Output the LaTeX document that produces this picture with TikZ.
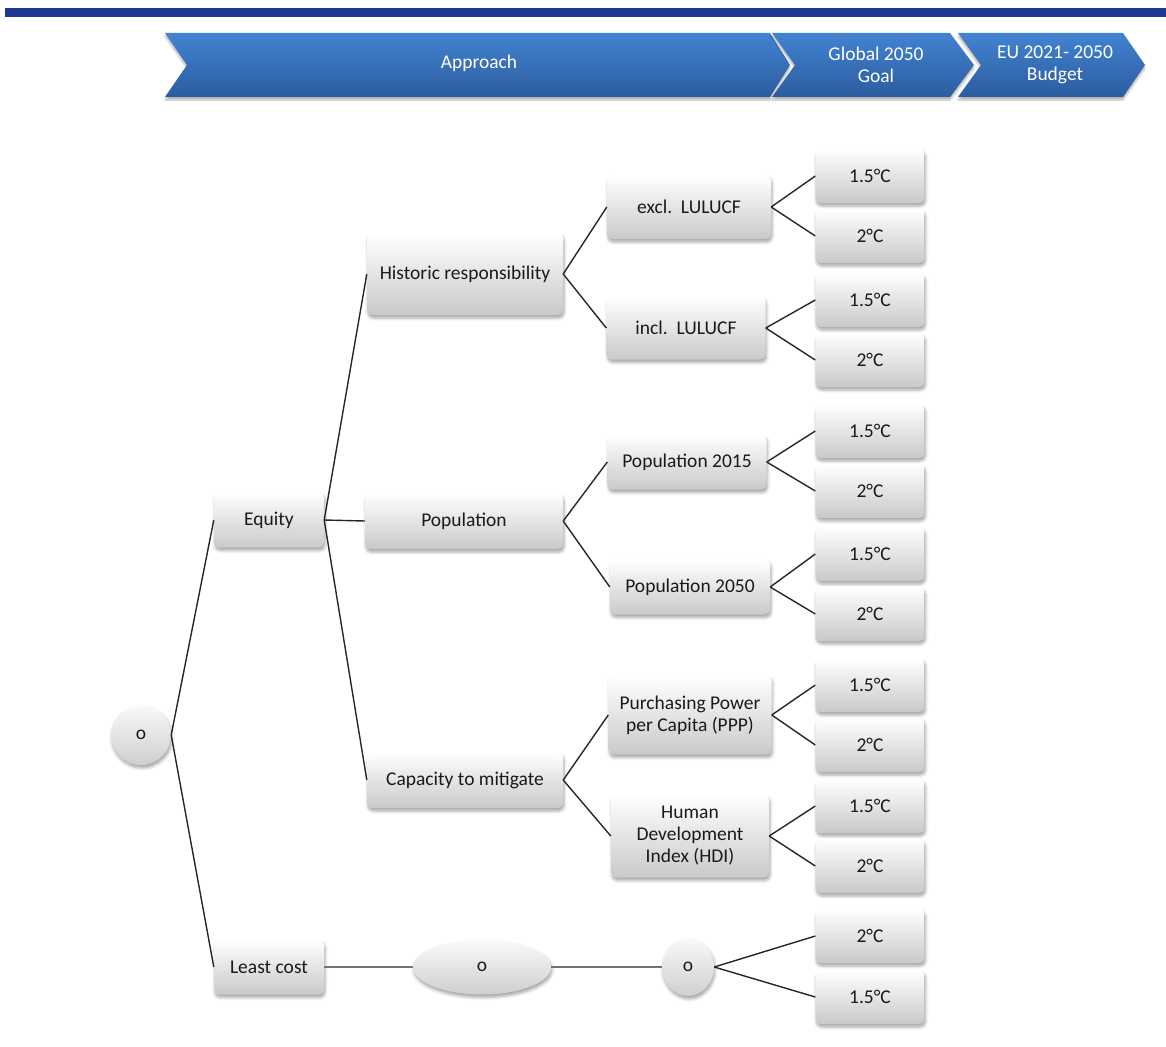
\documentclass[tikz,border=0pt]{standalone}
\usepackage{fontspec}
\setmainfont{Carlito}
\usetikzlibrary{shapes.geometric,shadows.blur}
\definecolor{barblue}{RGB}{31,56,147}
\definecolor{chevtop}{RGB}{66,131,210}
\definecolor{chevbot}{RGB}{44,92,158}
\definecolor{txt}{RGB}{25,25,30}
\tikzset{
  sh/.style={blur shadow={shadow xshift=1pt, shadow yshift=-3pt, shadow blur radius=3pt, shadow opacity=35}},
  box/.style={rectangle, rounded corners=5pt, top color=white, bottom color=gray!42, draw=none, sh,
    font=\fontsize{19.5}{22}\selectfont, text=txt, align=center, inner sep=2pt},
  oval/.style={ellipse, top color=white!96!gray, bottom color=gray!38, draw=none, sh,
    font=\fontsize{19.5}{22}\selectfont, text=txt, inner sep=0pt},
  res/.style={box, minimum width=109, minimum height=54},
  chev/.style={top color=chevtop, bottom color=chevbot, draw=none,
    blur shadow={shadow xshift=0pt, shadow yshift=-3pt, shadow blur radius=2pt, shadow opacity=30}},
  chevtext/.style={font=\fontsize{19.5}{22}\selectfont, text=white, align=center},
  link/.style={draw=black!85, line width=1.4pt},
  glink/.style={draw=gray!90!black, line width=2.2pt}
}
\begin{document}
\begin{tikzpicture}[x=1pt,y=-1pt]
\useasboundingbox (0,0) rectangle (1166,1046);
% header bar
\fill[barblue] (5,8) rectangle (1166,17);
% chevrons
\path[chev] (165,33) -- (770,33) -- (790,65) -- (770,97) -- (165,97) -- (187,65) -- cycle;
\path[chev] (772,33) -- (950,33) -- (974,65) -- (950,97) -- (772,97) -- (795,65) -- cycle;
\path[chev] (958,33) -- (1123,33) -- (1145,65) -- (1123,97) -- (958,97) -- (981,65) -- cycle;
\node[chevtext] (tapp) at (479,63) {Approach};
\node[chevtext] (tglob) at (876,65) {Global 2050\\Goal};
\node[chevtext] (teu) at (1055,65) {EU 2021- 2050\\Budget};

% nodes
\node[oval, minimum width=60, minimum height=60] (root) at (141,735) {o};
\node[box, minimum width=110, minimum height=55] (eq) at (269,520) {Equity};
\node[box, minimum width=110, minimum height=55] (lc) at (269,967) {Least cost};

\node[box, minimum width=196, minimum height=82] (hist) at (465,274) {Historic responsibility};
\node[box, minimum width=198, minimum height=56] (pop) at (464,521) {Population};
\node[box, minimum width=196, minimum height=56] (cap) at (465,780) {Capacity to mitigate};

\node[box, minimum width=164, minimum height=64] (excl) at (689,207) {excl.\ \ LULUCF};
\node[box, minimum width=159, minimum height=63] (incl) at (686,328) {incl.\ \ LULUCF};
\node[box, minimum width=159, minimum height=55] (p15) at (687,462) {Population 2015};
\node[box, minimum width=160, minimum height=55] (p50) at (690,587) {Population 2050};
\node[box, minimum width=163, minimum height=79] (ppp) at (690,715) {Purchasing Power\\per Capita (PPP)};
\node[box, minimum width=158, minimum height=83] (hdi) at (690,836) {Human\\Development\\Index (HDI)};

\node[oval, minimum width=138, minimum height=55] (ell) at (482,967) {o};
\node[oval, minimum width=52, minimum height=58] (sm) at (688,967) {o};

\node[res] (a1) at (870,176) {1.5°C};
\node[res] (a2) at (870,236) {2°C};
\node[res] (b1) at (870,300) {1.5°C};
\node[res] (b2) at (870,360) {2°C};
\node[res] (c1) at (870,431) {1.5°C};
\node[res] (c2) at (870,491) {2°C};
\node[res] (d1) at (870,554) {1.5°C};
\node[res] (d2) at (870,614) {2°C};
\node[res] (e1) at (870,685) {1.5°C};
\node[res] (e2) at (870,745) {2°C};
\node[res] (f1) at (870,806) {1.5°C};
\node[res] (f2) at (870,866) {2°C};
\node[res] (g1) at (870,936) {2°C};
\node[res] (g2) at (870,997) {1.5°C};

% connectors
\draw[link] (root.east) -- (eq.west);
\draw[link] (root.east) -- (lc.west);
\draw[link] (eq.east) -- (hist.west);
\draw[link] (eq.east) -- (pop.west);
\draw[link] (eq.east) -- (cap.west);
\draw[link] (hist.east) -- (excl.west);
\draw[link] (hist.east) -- (incl.west);
\draw[link] (pop.east) -- (p15.west);
\draw[link] (pop.east) -- (p50.west);
\draw[link] (cap.east) -- (ppp.west);
\draw[link] (cap.east) -- (hdi.west);
\draw[link] (excl.east) -- (a1.west);
\draw[link] (excl.east) -- (a2.west);
\draw[link] (incl.east) -- (b1.west);
\draw[link] (incl.east) -- (b2.west);
\draw[link] (p15.east) -- (c1.west);
\draw[link] (p15.east) -- (c2.west);
\draw[link] (p50.east) -- (d1.west);
\draw[link] (p50.east) -- (d2.west);
\draw[link] (ppp.east) -- (e1.west);
\draw[link] (ppp.east) -- (e2.west);
\draw[link] (hdi.east) -- (f1.west);
\draw[link] (hdi.east) -- (f2.west);
\draw[link] (sm.east) -- (g1.west);
\draw[link] (sm.east) -- (g2.west);
\draw[glink] (lc.east) -- (ell.west);
\draw[glink] (ell.east) -- (sm.west);
\end{tikzpicture}
\end{document}
